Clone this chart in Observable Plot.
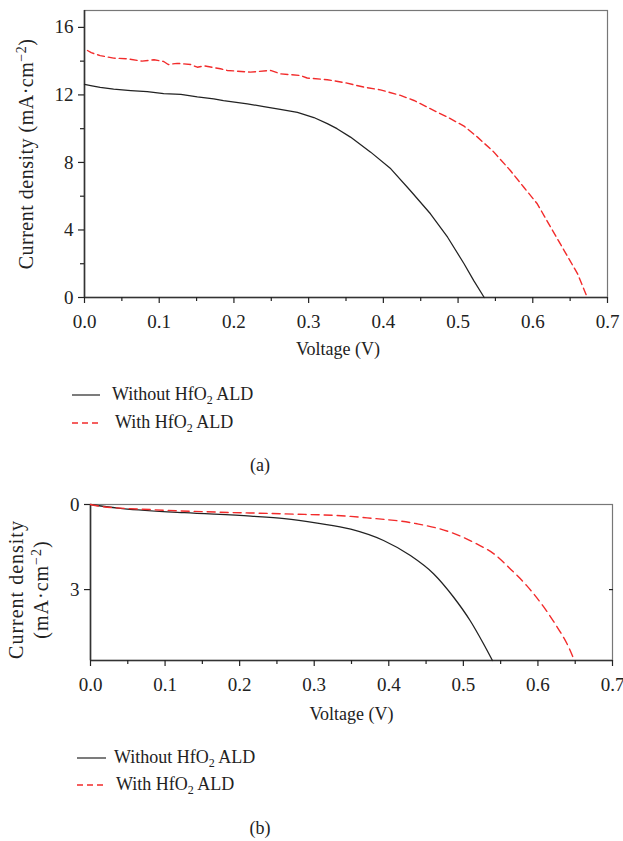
<!DOCTYPE html>
<html>
<head>
<meta charset="utf-8">
<script src="https://cdn.jsdelivr.net/npm/d3@7"></script>
<script src="https://cdn.jsdelivr.net/npm/@observablehq/plot@0.6"></script>
<style>
  html, body { margin: 0; padding: 0; background: #fff; }
  #root { position: relative; width: 623px; height: 841px; overflow: hidden; font-family: "Liberation Serif", serif; color: #222; }
  .panel { position: absolute; left: 0; }
  .leg { position: absolute; font-size: 18px; line-height: 1; white-space: nowrap; }
  .leg sub { font-size: 12px; vertical-align: -4px; line-height: 0; }
  .cap { position: absolute; font-size: 18px; transform: translate(-50%, -50%); }
</style>
</head>
<body>
<div id="root"></div>
<script>
// ---------- data ----------
const xTicks = [0.0, 0.1, 0.2, 0.3, 0.4, 0.5, 0.6, 0.7];
const xMinorTicks = [0.05, 0.15, 0.25, 0.35, 0.45, 0.55, 0.65];
const xDomain = [0, 0.7];
const xLabel = "Voltage (V)";

const seriesNames = ["Without HfO₂ ALD", "With HfO₂ ALD"];

// Panel (a)
const aYTicks = [0, 4, 8, 12, 16];
const aYMinorTicks = [2, 6, 10, 14];
const aYDomain = [0, 17];
const aYLabel = "Current density (mA·cm⁻²)";
const aWithoutV = [0.000, 0.010, 0.021, 0.039, 0.062, 0.084, 0.106, 0.129, 0.151, 0.173, 0.186, 0.218, 0.240, 0.262, 0.285, 0.307, 0.325, 0.338, 0.356, 0.383, 0.410, 0.436, 0.463, 0.486, 0.508, 0.521, 0.535];
const aWithoutJ = [12.62, 12.54, 12.44, 12.34, 12.26, 12.20, 12.08, 12.03, 11.88, 11.77, 11.66, 11.47, 11.31, 11.15, 10.96, 10.66, 10.30, 10.00, 9.50, 8.61, 7.62, 6.34, 4.96, 3.57, 2.00, 1.00, 0.00];
const aWithV = [0.004, 0.009, 0.021, 0.039, 0.057, 0.077, 0.093, 0.106, 0.112, 0.124, 0.142, 0.151, 0.160, 0.182, 0.191, 0.222, 0.249, 0.262, 0.289, 0.298, 0.325, 0.349, 0.374, 0.396, 0.423, 0.441, 0.459, 0.472, 0.486, 0.508, 0.526, 0.548, 0.570, 0.588, 0.606, 0.624, 0.642, 0.660, 0.673];
const aWithJ = [14.63, 14.50, 14.33, 14.18, 14.14, 14.00, 14.08, 13.98, 13.80, 13.87, 13.80, 13.64, 13.72, 13.55, 13.45, 13.35, 13.45, 13.25, 13.15, 13.00, 12.90, 12.72, 12.46, 12.30, 11.97, 11.67, 11.27, 10.98, 10.68, 10.15, 9.50, 8.61, 7.52, 6.53, 5.55, 4.16, 2.78, 1.40, 0.00];

// Panel (b)
const bYTicks = [0, 3];
const bYDomain = [0, 5.5];
const bYLabel = "Current density\n(mA·cm⁻²)";
const bWithoutV = [0.000, 0.037, 0.126, 0.215, 0.260, 0.304, 0.349, 0.393, 0.429, 0.460, 0.487, 0.509, 0.527, 0.539];
const bWithoutJ = [0.00, 0.13, 0.29, 0.41, 0.50, 0.66, 0.87, 1.27, 1.80, 2.44, 3.27, 4.09, 4.91, 5.50];
const bWithV = [0.000, 0.015, 0.081, 0.171, 0.260, 0.349, 0.371, 0.438, 0.483, 0.518, 0.541, 0.563, 0.585, 0.608, 0.626, 0.639, 0.649];
const bWithJ = [0.00, 0.07, 0.18, 0.27, 0.33, 0.42, 0.47, 0.68, 0.98, 1.39, 1.74, 2.27, 2.86, 3.62, 4.33, 4.91, 5.50];

const captions = ["(a)", "(b)"];

// ---------- helpers ----------
const BLACK = "#222";
const RED = "#f22b2b";
const NS = "http://www.w3.org/2000/svg";
const zip = (vs, js) => vs.map((v, i) => ({v, j: js[i]}));
const fmt = d3.format(".1f");

function supify(svg, spacing) {
  svg.querySelectorAll("text").forEach(el => {
    if (el.textContent.includes("Current density")) el.style.letterSpacing = spacing + "px";
  });
  svg.querySelectorAll("text, tspan").forEach(el => {
    if (el.children.length) return;
    const t = el.textContent;
    const i = t.indexOf("⁻²");
    if (i < 0) return;
    el.textContent = t.slice(0, i);
    const s = document.createElementNS(NS, "tspan");
    s.setAttribute("baseline-shift", "super");
    s.setAttribute("font-size", "70%");
    s.textContent = "−2";
    el.appendChild(s);
    const r = document.createElementNS(NS, "tspan");
    r.textContent = t.slice(i + 2);
    el.appendChild(r);
  });
}

const root = document.getElementById("root");
const style = {fontFamily: "'Liberation Serif', serif", fontSize: "19px", color: BLACK, background: "transparent", overflow: "visible"};

// ---------- panel (a) ----------
const plotA = Plot.plot({
  width: 623, height: 370,
  marginTop: 10, marginLeft: 84, marginRight: 16, marginBottom: 73,
  style,
  x: {domain: xDomain},
  y: {domain: aYDomain},
  marks: [
    Plot.frame({stroke: "#777", strokeWidth: 1.2}),
    Plot.ruleX([xDomain[0]], {stroke: "#333", strokeWidth: 1.6}),
    Plot.ruleY([aYDomain[0]], {stroke: "#333", strokeWidth: 1.6}),
    Plot.axisX({ticks: xTicks, tickSize: 6, tickPadding: 11, tickFormat: fmt, label: null, strokeWidth: 1.2}),
    Plot.axisX({ticks: xMinorTicks, tickSize: 4, tickFormat: () => "", label: null, strokeWidth: 1.2}),
    Plot.axisY({ticks: aYTicks, tickSize: 6, tickPadding: 5, tickFormat: d3.format("d"), label: null, strokeWidth: 1.2}),
    Plot.axisY({ticks: aYMinorTicks, tickSize: 4, tickFormat: () => "", label: null, strokeWidth: 1.2}),
    Plot.line(zip(aWithoutV, aWithoutJ), {x: "v", y: "j", stroke: BLACK, strokeWidth: 1.25}),
    Plot.line(zip(aWithV, aWithJ), {x: "v", y: "j", stroke: RED, strokeWidth: 1.4, strokeDasharray: "7,4"}),
    Plot.text([xLabel], {frameAnchor: "bottom", textAnchor: "middle", dy: 57, dx: -8, text: d => d, fontSize: 18}),
    Plot.text([aYLabel], {frameAnchor: "left", textAnchor: "middle", dx: -58, rotate: -90, text: d => d, fontSize: 20})
  ]
});
supify(plotA, 0.5);
const divA = document.createElement("div");
divA.className = "panel"; divA.style.top = "0px";
divA.appendChild(plotA);
root.appendChild(divA);

// ---------- panel (b) ----------
const plotB = Plot.plot({
  width: 623, height: 250,
  marginTop: 24, marginLeft: 90, marginRight: 11, marginBottom: 70,
  style,
  x: {domain: xDomain},
  y: {domain: bYDomain, reverse: true},
  marks: [
    Plot.frame({stroke: "#777", strokeWidth: 1.2}),
    Plot.ruleX([xDomain[0]], {stroke: "#333", strokeWidth: 1.6}),
    Plot.ruleY([bYDomain[1]], {stroke: "#333", strokeWidth: 1.6}),
    Plot.axisX({ticks: xTicks, tickSize: 6, tickPadding: 11, tickFormat: fmt, label: null, strokeWidth: 1.2}),
    Plot.axisX({ticks: xMinorTicks, tickSize: 4, tickFormat: () => "", label: null, strokeWidth: 1.2}),
    Plot.axisY({ticks: bYTicks, tickSize: 6, tickPadding: 5, tickFormat: d3.format("d"), label: null, strokeWidth: 1.2}),
    Plot.axisY({anchor: "right", ticks: [bYTicks[1]], tickSize: -4, tickFormat: () => "", label: null, strokeWidth: 1.2}),
    Plot.line(zip(bWithoutV, bWithoutJ), {x: "v", y: "j", stroke: BLACK, strokeWidth: 1.3, curve: "monotone-x"}),
    Plot.line(zip(bWithV, bWithJ), {x: "v", y: "j", stroke: RED, strokeWidth: 1.4, strokeDasharray: "8,5", curve: "monotone-x"}),
    Plot.text([xLabel], {frameAnchor: "bottom", textAnchor: "middle", dy: 59, text: d => d, fontSize: 18}),
    Plot.text([bYLabel], {frameAnchor: "left", textAnchor: "middle", dx: -63, dy: 7, rotate: -90, lineHeight: 1.25, text: d => d, fontSize: 20})
  ]
});
supify(plotB, 1);
const divB = document.createElement("div");
divB.className = "panel"; divB.style.top = "480px";
divB.appendChild(plotB);
root.appendChild(divB);

// ---------- legends (HTML) ----------
function legend(x0, x1, yLine, textX, textX2, yLine2) {
  const svg = document.createElementNS(NS, "svg");
  svg.setAttribute("width", 623); svg.setAttribute("height", 841);
  svg.style.position = "absolute"; svg.style.left = "0"; svg.style.top = "0";
  const l1 = document.createElementNS(NS, "line");
  l1.setAttribute("x1", x0); l1.setAttribute("x2", x1); l1.setAttribute("y1", yLine); l1.setAttribute("y2", yLine);
  l1.setAttribute("stroke", "#444"); l1.setAttribute("stroke-width", 1.4);
  const l2 = document.createElementNS(NS, "line");
  l2.setAttribute("x1", x0); l2.setAttribute("x2", x1); l2.setAttribute("y1", yLine2); l2.setAttribute("y2", yLine2);
  l2.setAttribute("stroke", RED); l2.setAttribute("stroke-width", 1.4); l2.setAttribute("stroke-dasharray", "6,4");
  svg.appendChild(l1); svg.appendChild(l2);
  root.appendChild(svg);
  const parts = seriesNames.map(s => s.replace("₂", "<sub>2</sub>"));
  const t1 = document.createElement("div");
  t1.className = "leg"; t1.style.left = textX + "px"; t1.style.top = (yLine - 10) + "px"; t1.innerHTML = parts[0];
  const t2 = document.createElement("div");
  t2.className = "leg"; t2.style.left = textX2 + "px"; t2.style.top = (yLine2 - 10) + "px"; t2.innerHTML = parts[1];
  root.appendChild(t1); root.appendChild(t2);
}
legend(72, 100, 395, 112, 115, 423);
legend(77, 106, 758, 114, 116, 785);

function caption(text, x, y) {
  const c = document.createElement("div");
  c.className = "cap"; c.style.left = x + "px"; c.style.top = y + "px"; c.textContent = text;
  root.appendChild(c);
}
caption(captions[0], 260, 465);
caption(captions[1], 260, 828);
</script>
</body>
</html>
